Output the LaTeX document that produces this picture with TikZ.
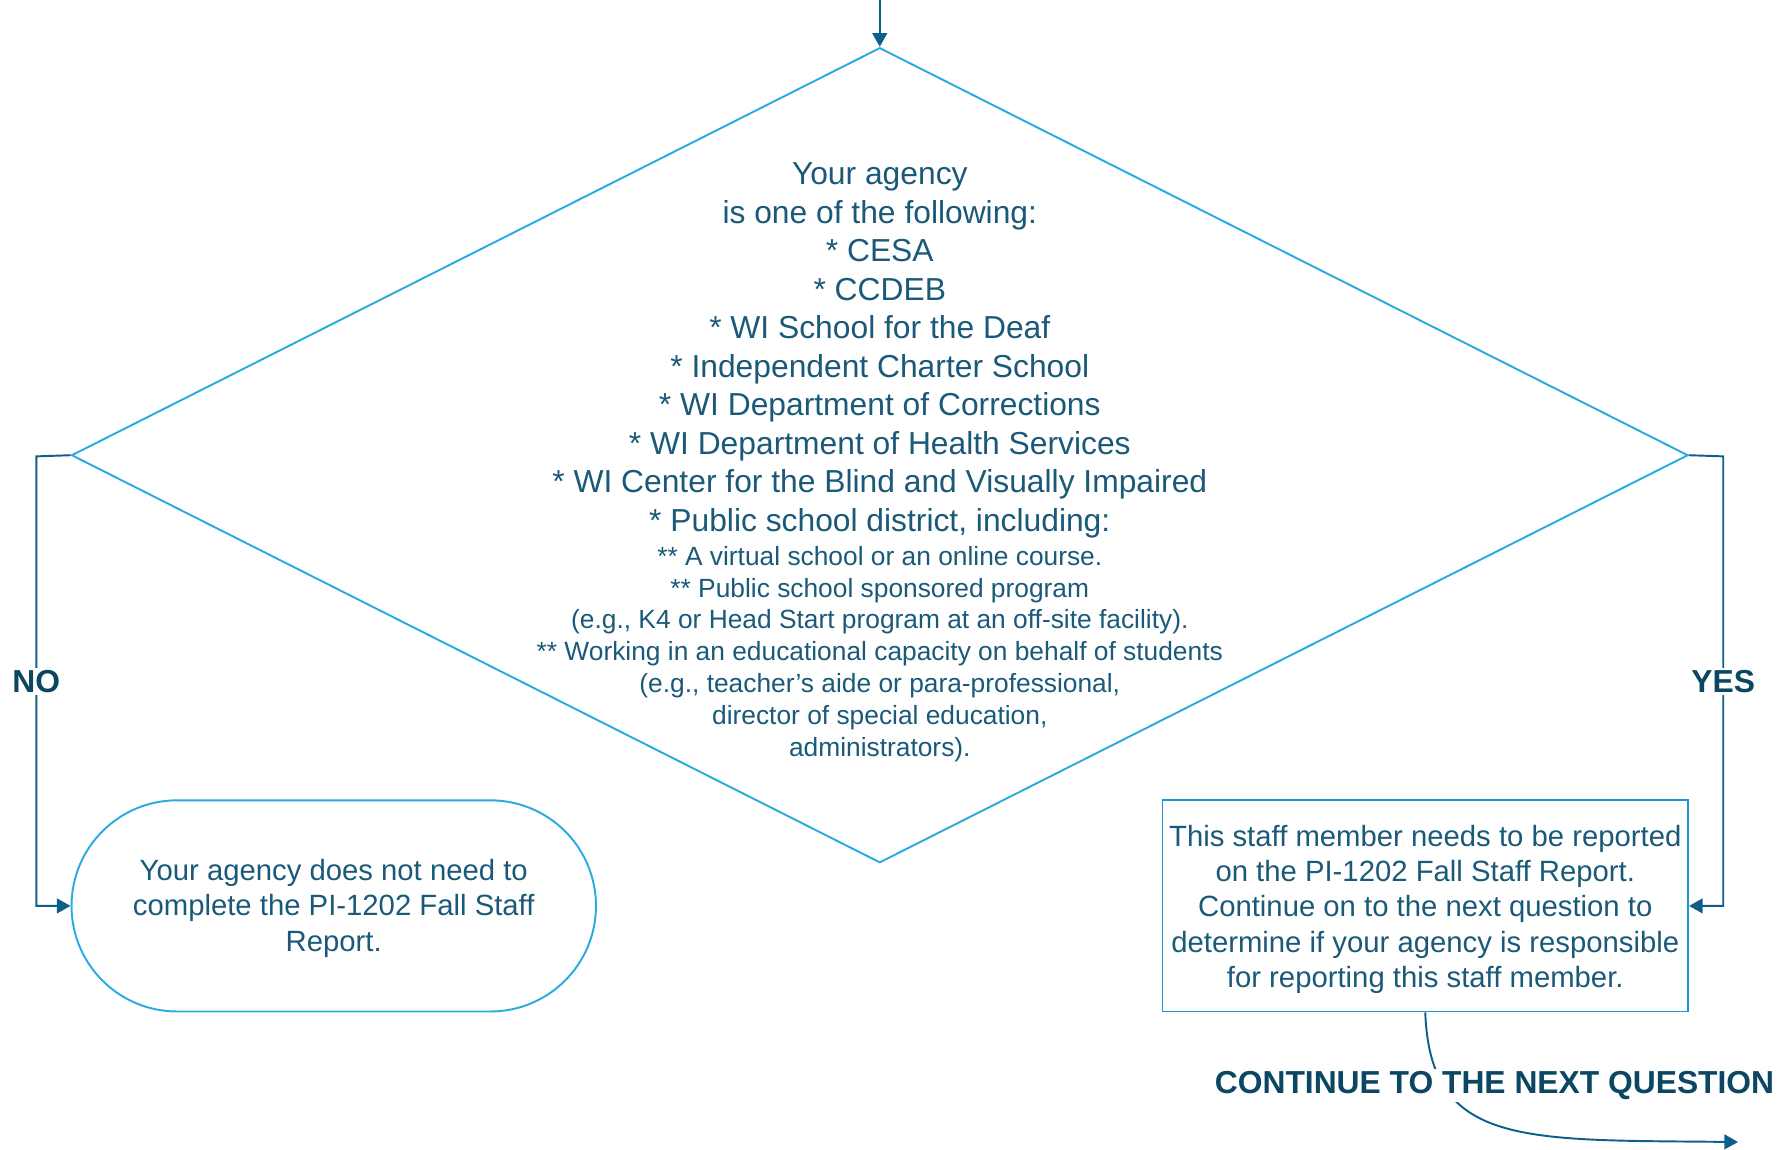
\documentclass[tikz,border=0pt]{standalone}
\usepackage{fontspec}
\setmainfont{Liberation Sans}
\usetikzlibrary{shapes.geometric,arrows.meta}
\definecolor{diacol}{HTML}{29ABE2}
\definecolor{boxcol}{HTML}{1E93CF}
\definecolor{conncol}{HTML}{0E5E8A}
\definecolor{txtcol}{HTML}{1A5A78}
\definecolor{lblcol}{HTML}{0B4662}
\begin{document}
\begin{tikzpicture}[x=0.5pt,y=-0.5pt,
  decision/.style={draw=diacol,line width=0.85pt,diamond,inner sep=0pt,minimum width=712pt,minimum height=359pt},
  boxtext/.style={align=center,text=txtcol,inner sep=0pt,font=\fontsize{12.9}{15.6}\selectfont},
  terminal/.style={draw=diacol,line width=0.85pt,rectangle,rounded corners=46.5pt,minimum width=231pt,minimum height=93pt,inner sep=0pt},
  processbox/.style={draw=boxcol,line width=0.85pt,rectangle,minimum width=231.5pt,minimum height=93pt,inner sep=0pt},
  bigtext/.style={align=center,text=txtcol,inner sep=0pt,font=\fontsize{14}{16.95}\selectfont},
  smalltext/.style={align=center,text=txtcol,inner sep=0pt,font=\fontsize{11.6}{14}\selectfont},
  conn/.style={draw=conncol,line width=0.85pt,-{Triangle[length=6pt,width=6.5pt]}},
  branchlbl/.style={fill=white,text=lblcol,inner sep=1pt,font=\fontsize{14}{16}\selectfont\bfseries}
]
\useasboundingbox (0,0) rectangle (1568,1013);

\node[decision] (dec) at (775,401) {};
\node[bigtext] (dtop) at (775,308.5) {Your agency\\is one of the following:\\* CESA\\* CCDEB\\* WI School for the Deaf\\* Independent Charter School\\* WI Department of Corrections\\* WI Department of Health Services\\* WI Center for the Blind and Visually Impaired\\* Public school district, including:};
\node[smalltext] (dbot) at (775,576) {** A virtual school or an online course.\\** Public school sponsored program\\(e.g., K4 or Head Start program at an off-site facility).\\** Working in an educational capacity on behalf of students\\(e.g., teacher’s aide or para-professional,\\director of special education,\\administrators).};

\node[terminal,label={[boxtext,yshift=-1pt]center:{Your agency does not need to\\complete the PI-1202 Fall Staff\\Report.}}] (term) at (294,798) {};
\node[processbox,label={[boxtext,yshift=-1.5pt]center:{This staff member needs to be reported\\on the PI-1202 Fall Staff Report.\\Continue on to the next question to\\determine if your agency is responsible\\for reporting this staff member.}}] (proc) at (1255.5,798) {};

\coordinate (start) at (775,-2);
\coordinate (nocorner) at (32,402);
\coordinate (yescorner) at (1518,402);
\coordinate (finish) at (1531,1006);

\draw[conn] (start) -- (dec.north);
\draw[conn] (dec.west) -- (nocorner) |- (term.west);
\draw[conn] (dec.east) -- (yescorner) |- (proc.east);
\draw[conn] (proc.south) .. controls (1260,1010) and (1340,1004) .. (finish);

\node[branchlbl] (nolbl) at (32,600) {NO};
\node[branchlbl] (yeslbl) at (1518,600) {YES};
\node[branchlbl,anchor=base] (contlbl) at (1316.5,963) {CONTINUE TO THE NEXT QUESTION};
\end{tikzpicture}
\end{document}
